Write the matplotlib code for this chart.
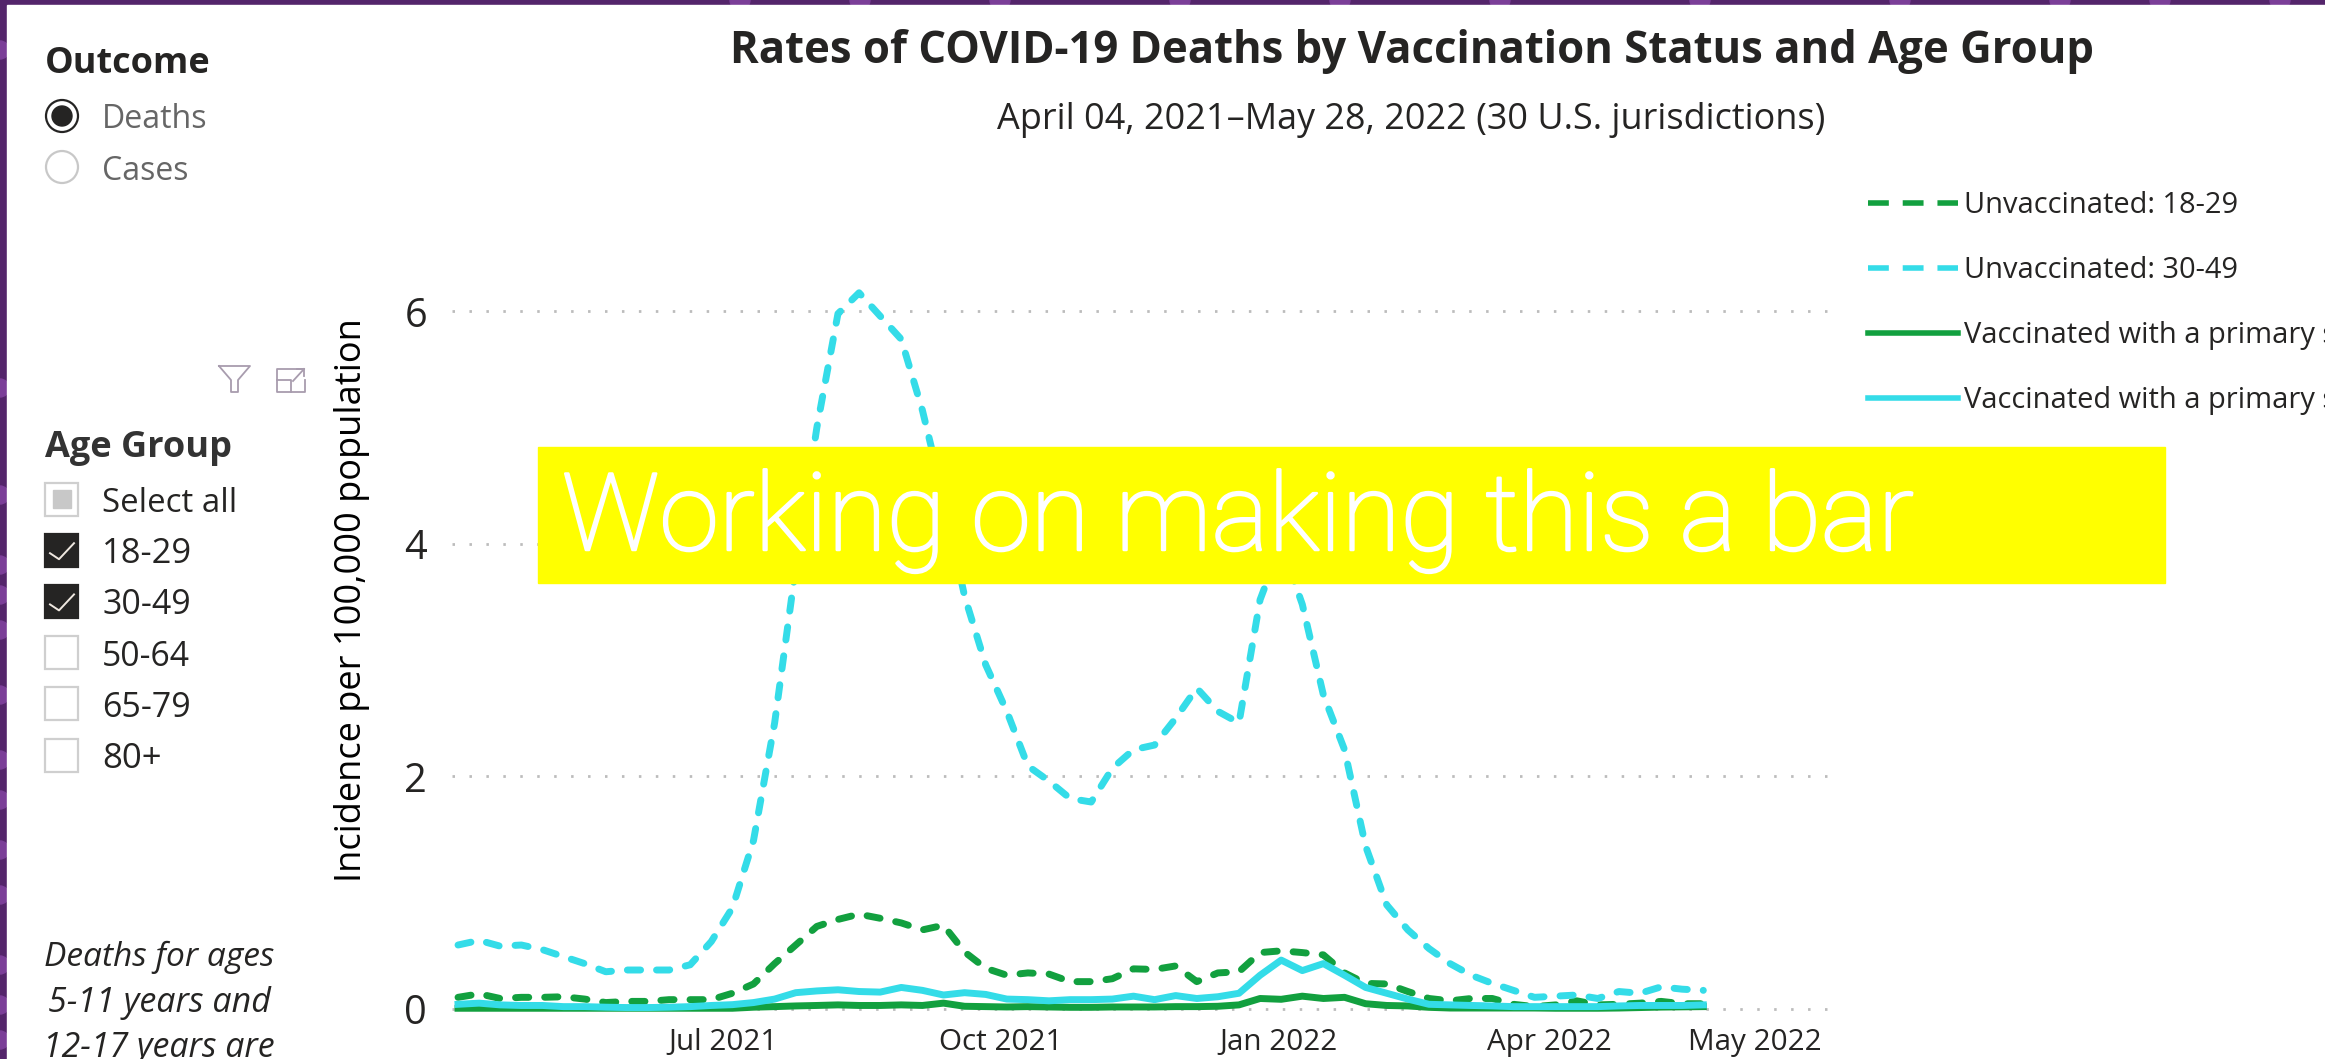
"""Rates of COVID-19 deaths by vaccination status, as a dashboard screenshot."""

import matplotlib

matplotlib.use("Agg")

import matplotlib.patheffects as pe
import matplotlib.pyplot as plt
import pandas as pd
from matplotlib.font_manager import FontProperties
from matplotlib.lines import Line2D
from matplotlib.patches import Circle, Rectangle
from matplotlib.textpath import TextPath

plt.rcParams["lines.scale_dashes"] = False

W, H = 2325, 1059
FONT = "Open Sans"
PURPLE = "#54256b"
BLOB = "#7b3f98"
GREEN = "#12a03f"
CYAN = "#34dce8"
INK = "#252423"

weeks = pd.date_range("2021-04-04", periods=60, freq="7D")

unvax_18_29 = [
    0.10, 0.13, 0.09, 0.10, 0.10, 0.105, 0.085, 0.055, 0.065, 0.065,
    0.08, 0.08, 0.08, 0.135, 0.215, 0.39, 0.55, 0.71, 0.77, 0.815,
    0.78, 0.74, 0.68, 0.72, 0.49, 0.35, 0.29, 0.31, 0.30, 0.235,
    0.235, 0.26, 0.345, 0.34, 0.37, 0.235, 0.31, 0.32, 0.485, 0.50,
    0.485, 0.465, 0.31, 0.22, 0.215, 0.15, 0.09, 0.07, 0.09, 0.09,
    0.04, 0.02, 0.035, 0.07, 0.035, 0.04, 0.05, 0.065, 0.045, 0.045,
]
unvax_30_49 = [
    0.55, 0.59, 0.54, 0.55, 0.51, 0.45, 0.39, 0.32, 0.335, 0.335,
    0.335, 0.38, 0.58, 0.87, 1.45, 2.46, 3.8, 5.0, 5.98, 6.16,
    5.96, 5.76, 5.15, 4.4, 3.55, 2.96, 2.56, 2.09, 1.96, 1.81,
    1.78, 2.07, 2.23, 2.27, 2.50, 2.76, 2.56, 2.46, 3.52, 4.0,
    3.48, 2.70, 2.23, 1.40, 0.895, 0.68, 0.52, 0.39, 0.29, 0.22,
    0.16, 0.10, 0.11, 0.12, 0.09, 0.15, 0.135, 0.19, 0.17, 0.16,
]
vax_18_29 = [
    0.006, 0.006, 0.006, 0.006, 0.006, 0.006, 0.006, 0.006, 0.006, 0.006,
    0.006, 0.006, 0.006, 0.006, 0.015, 0.02, 0.026, 0.03, 0.035, 0.03,
    0.03, 0.035, 0.03, 0.05, 0.023, 0.02, 0.017, 0.02, 0.017, 0.014,
    0.014, 0.017, 0.017, 0.017, 0.02, 0.02, 0.023, 0.035, 0.09, 0.083,
    0.11, 0.09, 0.10, 0.045, 0.03, 0.026, 0.014, 0.008, 0.008, 0.008,
    0.008, 0.008, 0.006, 0.006, 0.006, 0.008, 0.012, 0.016, 0.018, 0.02,
]
vax_30_49 = [
    0.04, 0.05, 0.035, 0.03, 0.03, 0.02, 0.02, 0.015, 0.012, 0.012,
    0.015, 0.02, 0.03, 0.037, 0.055, 0.085, 0.14, 0.155, 0.165, 0.15,
    0.145, 0.185, 0.16, 0.12, 0.14, 0.125, 0.085, 0.08, 0.07, 0.08,
    0.08, 0.085, 0.11, 0.08, 0.115, 0.09, 0.105, 0.135, 0.29, 0.42,
    0.33, 0.39, 0.29, 0.185, 0.135, 0.085, 0.04, 0.035, 0.03, 0.026,
    0.02, 0.02, 0.02, 0.02, 0.02, 0.026, 0.03, 0.03, 0.03, 0.035,
]

legend_labels = [
    "Unvaccinated: 18-29",
    "Unvaccinated: 30-49",
    "Vaccinated with a primary series: 18-29",
    "Vaccinated with a primary series: 30-49",
]
y_ticks = [0, 2, 4, 6]
# the May label sits well right of May 1 in the source, so its tick does too
x_tick_dates = ["2021-07-01", "2021-10-01", "2022-01-01", "2022-04-01", "2022-06-08"]
x_tick_labels = ["Jul 2021", "Oct 2021", "Jan 2022", "Apr 2022", "May 2022"]
age_groups = ["Select all", "18-29", "30-49", "50-64", "65-79", "80+"]
age_state = ["partial", "on", "on", "off", "off", "off"]
age_widths = [130, 85, 85, 85, 85, 56]
outcomes = ["Deaths", "Cases"]


def fit_size(text, width_px, **font):
    """Font size in points that makes text width_px wide at 100 dpi."""
    prop = FontProperties(family=font.get("family", FONT),
                          weight=font.get("weight", "normal"),
                          style=font.get("style", "normal"))
    extent = TextPath((0, 0), text, size=100, prop=prop).get_extents().width
    return 100 * (width_px * 0.72) / extent


def pixel_axes(fig, zorder):
    ax = fig.add_axes([0, 0, 1, 1], zorder=zorder)
    ax.set_xlim(0, W)
    ax.set_ylim(H, 0)
    ax.axis("off")
    ax.patch.set_alpha(0)
    return ax


def put(ax, x, y, text, width, color=INK, ha="left", rotation=0, **font):
    size = fit_size(text, width, **font)
    font.setdefault("family", FONT)
    ax.text(x, y, text, fontsize=size, color=color, ha=ha, va="center",
            rotation=rotation, **font)


def draw_background(ax):
    ax.add_patch(Rectangle((0, 0), W, H, color=PURPLE, zorder=0))
    for y in [50, 388, 495, 565, 595, 630, 695, 760, 800, 850, 895, 965, 1005, 1040]:
        ax.add_patch(Circle((0, y), 9, color=BLOB, zorder=1))
    for x in [740, 860, 1000, 1180, 1340, 1500, 1700, 1900, 2060, 2160, 2280]:
        ax.add_patch(Circle((x, 0), 10, color=BLOB, zorder=1))
    ax.add_patch(Rectangle((7, 5), W, H, color="white", zorder=2))


def draw_chart(ax):
    ax.plot(weeks, unvax_18_29, color=GREEN, lw=5, dashes=(9.5, 11.5),
            dash_capstyle="round", zorder=3)
    ax.plot(weeks, unvax_30_49, color=CYAN, lw=5, dashes=(9.5, 11.5),
            dash_capstyle="round", zorder=4)
    ax.plot(weeks, vax_18_29, color=GREEN, lw=5, zorder=5)
    ax.plot(weeks, vax_30_49, color=CYAN, lw=5, zorder=6)

    ax.set_xlim(pd.Timestamp("2021-04-02"), pd.Timestamp("2022-07-05"))
    ax.set_ylim(-0.095, 6.27)
    ax.set_yticks(y_ticks)
    ax.set_xticks(pd.to_datetime(x_tick_dates))
    ax.set_xticklabels(x_tick_labels, family=FONT, color=INK,
                       fontsize=fit_size("Jul 2021", 105))
    ax.set_yticklabels(y_ticks, family=FONT, color=INK,
                       fontsize=fit_size("0", 17) * 1.1)
    ax.tick_params(length=0)
    ax.tick_params(axis="x", pad=6)
    ax.tick_params(axis="y", pad=18)
    ax.grid(axis="y", color="#bcbcbc", lw=2, linestyle=(0, (1.8, 10.4)))
    ax.set_axisbelow(True)
    for spine in ax.spines.values():
        spine.set_visible(False)
    ax.patch.set_alpha(0)


def draw_legend(fig):
    dash = (0, (15, 10))
    handles = [
        Line2D([], [], color=GREEN, lw=4, linestyle=dash),
        Line2D([], [], color=CYAN, lw=4, linestyle=dash),
        Line2D([], [], color=GREEN, lw=4),
        Line2D([], [], color=CYAN, lw=4),
    ]
    size = fit_size(legend_labels[0], 270)
    size_px = size / 0.72
    prop = FontProperties(family=FONT, size=size)
    fig.legend(handles, legend_labels, loc="upper left", prop=prop, frameon=False,
               bbox_to_anchor=(1868 / W, 1 - 191 / H), borderaxespad=0, borderpad=0,
               handlelength=90 / size_px, handletextpad=6 / size_px,
               labelspacing=(65 - size_px * 1.0) / size_px, labelcolor=INK)


def draw_panel(ax):
    put(ax, 45, 64, "Outcome", 162, weight="bold")
    for y, label, on in zip([116, 167], outcomes, [True, False]):
        ax.add_patch(Circle((62, y), 16, fc="white", ec=INK if on else "#c8c8c8", lw=1.6))
        if on:
            ax.add_patch(Circle((62, y), 10, color=INK))
        put(ax, 102, y + 4, label, 101 if on else 83, color="#666666")

    # filter and expand icons
    icon = "#a89cae"
    ax.plot([219, 250, 238, 238, 231, 231, 219], [366, 366, 380, 392, 392, 380, 366],
            color=icon, lw=1.3)
    ax.plot([304, 277, 277, 305, 305], [369, 369, 392, 392, 380], color=icon, lw=1.3)
    ax.plot([277, 291, 291], [380, 380, 392], color=icon, lw=1.3)
    ax.plot([293, 304], [381, 369], color=icon, lw=1.3)
    ax.plot([297, 304, 304], [369, 369, 376], color=icon, lw=1.3)

    put(ax, 45, 448, "Age Group", 185, weight="bold", color="#333333")
    for i, (label, state, width) in enumerate(zip(age_groups, age_state, age_widths)):
        y = 499 + 51.2 * i
        dark = state == "on"
        ax.add_patch(Rectangle((45, y - 16.5), 33, 33, fc=INK if dark else "white",
                               ec=INK if dark else "#cfcfcf", lw=1.6))
        if state == "partial":
            ax.add_patch(Rectangle((52.5, y - 9), 18, 18, color="#c8c8c8"))
        if dark:
            ax.plot([50, 59, 74], [y + 3, y + 9, y - 7], color="#efe8e0", lw=1.4)
        put(ax, 102, y + 4, label, width)

    note = [("Deaths for ages", 957, 228), ("5-11 years and", 1003, 222),
            ("12-17 years are", 1048, 226)]
    for line, y, width in note:
        put(ax, 159, y, line, width, ha="center", style="italic")


fig = plt.figure(figsize=(W / 100, H / 100), dpi=100, facecolor=PURPLE)
draw_background(pixel_axes(fig, 0))

ax = fig.add_axes([452 / W, 1 - 1020 / H, (1836 - 452) / W, (1020 - 280) / H], zorder=1)
draw_chart(ax)
draw_legend(fig)

top = pixel_axes(fig, 2)
draw_panel(top)
put(top, 1412, 51, "Rates of COVID-19 Deaths by Vaccination Status and Age Group", 1357,
    ha="center", weight="bold")
put(top, 1411, 120, "April 04, 2021–May 28, 2022 (30 U.S. jurisdictions)", 827, ha="center")
put(top, 352, 600, "Incidence per 100,000 population", 556, color="black", ha="center",
    rotation=90)

top.add_patch(Rectangle((538, 447), 1627, 136, color="#ffff00", zorder=8))
size = fit_size("Working on making this a bar", 1347, family="Roboto", weight="light")
banner = top.text(562, 550, "Working on making this a bar", color="white", fontsize=size,
                  family="Roboto", weight="light", ha="left", va="baseline", zorder=9)
banner.set_path_effects([pe.withStroke(linewidth=1.8, foreground="white")])

fig.savefig("out.png", dpi=100, facecolor=PURPLE)
